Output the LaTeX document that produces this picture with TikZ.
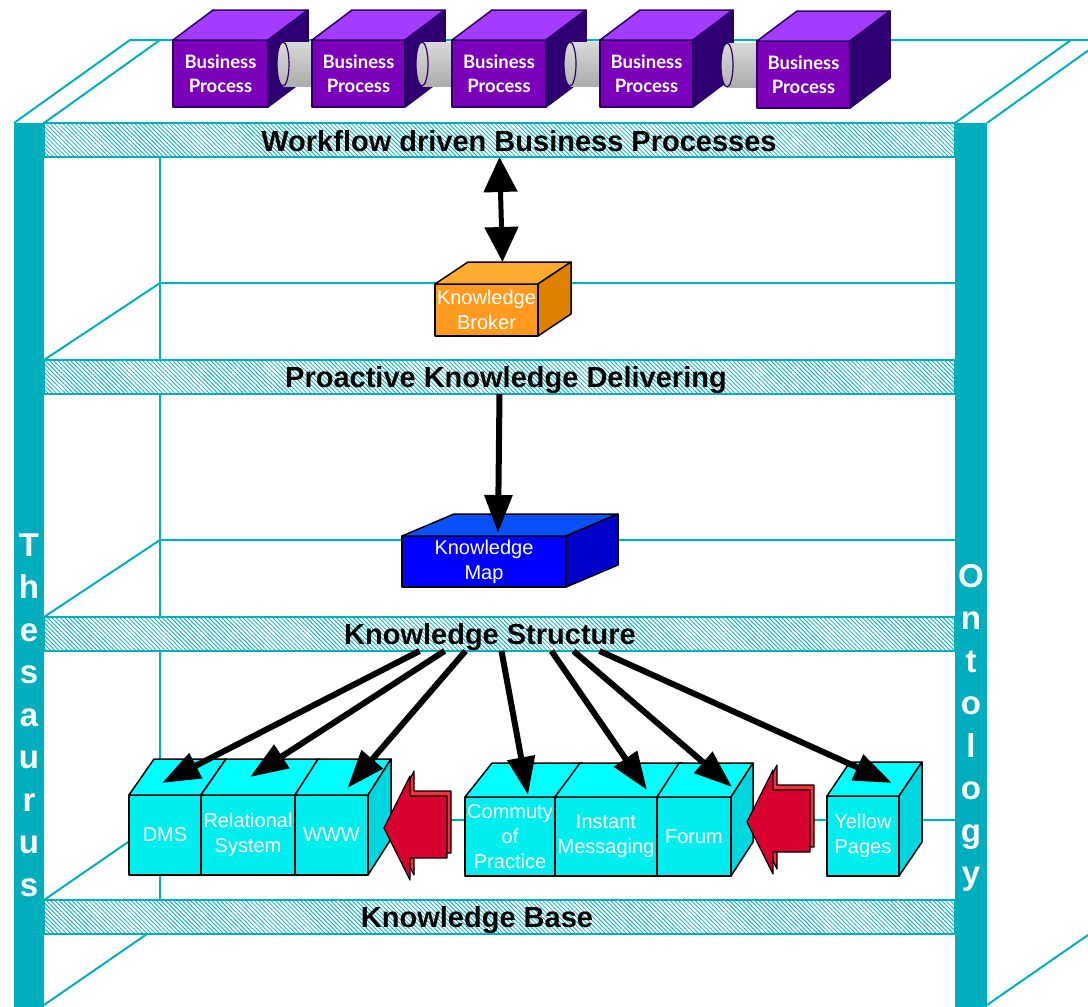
\documentclass[tikz,border=0pt]{standalone}
\usepackage{fontspec}
\setmainfont{Liberation Sans}
\newfontfamily\bpfont{Lato}
\usepackage{tikz}
\usetikzlibrary{arrows.meta,positioning,calc,patterns.meta}
\definecolor{shelfteal}{HTML}{00AEBD}
\definecolor{bpfront}{HTML}{7B00BA}
\definecolor{bptop}{HTML}{A33CFF}
\definecolor{bpside}{HTML}{2E0072}
\definecolor{bpedge}{HTML}{2A0066}
\definecolor{brokerfront}{HTML}{FF9A1E}
\definecolor{brokertop}{HTML}{FFAB2E}
\definecolor{brokerside}{HTML}{E08000}
\definecolor{mapfront}{HTML}{0000FF}
\definecolor{maptop}{HTML}{0A50FF}
\definecolor{mapside}{HTML}{0000CC}
\definecolor{kbfront}{HTML}{00EEEE}
\definecolor{kbtop}{HTML}{00FFFF}
\definecolor{kbside}{HTML}{00D6DE}
\definecolor{pushred}{HTML}{D8002E}
\definecolor{pushlight}{HTML}{F2303E}
\tikzset{
  frameline/.style={draw=shelfteal, line width=2pt},
  postbar/.style={fill=shelfteal, minimum height=884pt, anchor=north, inner sep=0pt, outer sep=0pt},
  postletters/.style={text=white, font=\bfseries\fontsize{33}{42.5}\selectfont, align=center, inner sep=0pt},
  bandbox/.style={
    draw=shelfteal,
    line width=1.5pt,
    preaction={fill=white},
    pattern={Lines[angle=-45,distance=3pt,line width=0.8pt]},
    pattern color=shelfteal,
    minimum width=911pt,
    minimum height=34pt,
    anchor=north west,
    inner sep=0pt,
    outer sep=0pt
  },
  bandtitle/.style={font=\bfseries\fontsize{29}{33}\selectfont, text height=21pt, text depth=0pt, inner sep=0pt},
  bpbox/.style={
    fill=bpfront,
    draw=bpedge,
    line width=1.5pt,
    text=white,
    font=\bpfont\bfseries\fontsize{18.5}{24}\selectfont,
    align=center,
    minimum width=95pt,
    minimum height=67pt,
    anchor=north west,
    inner sep=0pt,
    outer sep=0pt
  },
  bptopface/.style={fill=bptop, draw=bpedge, line width=1.5pt},
  bpsideface/.style={fill=bpside, draw=bpedge, line width=1.5pt},
  pipe/.style={top color=gray!30, middle color=gray!5, bottom color=gray!65},
  pipecap/.style={draw=bpedge, line width=1.2pt, top color=gray!30, bottom color=gray!60},
  solidbox/.style={
    draw=black,
    line width=1.5pt,
    text=white,
    font=\fontsize{20}{25}\selectfont,
    align=center,
    anchor=north west,
    inner sep=0pt,
    outer sep=0pt
  },
  brokerbox/.style={solidbox, fill=brokerfront},
  mapbox/.style={solidbox, fill=mapfront},
  kbbox/.style={solidbox, fill=kbfront},
  brokertopface/.style={fill=brokertop, draw=black, line width=1.5pt},
  brokersideface/.style={fill=brokerside, draw=black, line width=1.5pt},
  maptopface/.style={fill=maptop, draw=black, line width=1.5pt},
  mapsideface/.style={fill=mapside, draw=black, line width=1.5pt},
  kbtopface/.style={fill=kbtop, draw=black, line width=1.5pt},
  kbsideface/.style={fill=kbside, draw=black, line width=1.5pt},
  pushfront/.style={fill=pushred, draw=black, line width=1.2pt},
  pushback/.style={fill=pushlight, draw=black, line width=1.2pt},
  feed/.style={-{Triangle[length=38pt,width=27pt]}, line width=6pt},
  duplex/.style={{Triangle[length=35pt,width=33pt]}-{Triangle[length=35pt,width=33pt]}, line width=5pt}
}
\newcommand{\cubefaces}[5]{%
  \draw[#4] (#1.north west) -- ++(#2,#3) -- ($(#1.north east)+(#2,#3)$) -- (#1.north east) -- cycle;
  \draw[#5] (#1.north east) -- ++(#2,#3) -- ($(#1.south east)+(#2,#3)$) -- (#1.south east) -- cycle;}
\newcommand{\pusharrow}[1]{%
  \draw[pushback] ($(#1)+(4,-5)$) -- ++(26,-52) -- ++(0,20) -- ++(37,0) -- ++(0,62) -- ++(-37,0) -- ++(0,22) -- cycle;
  \draw[pushfront] (#1) -- ++(26,-52) -- ++(0,20) -- ++(37,0) -- ++(0,62) -- ++(-37,0) -- ++(0,22) -- cycle;}

\begin{document}
\begin{tikzpicture}[x=1pt, y=-1pt, line join=round]
\useasboundingbox (0,0) rectangle (1088,1007);
% shelf frame
\draw[frameline] (14,123) -- (130,40) -- (1088,40);
\draw[frameline] (44,123) -- (160,40);
\draw[frameline] (160,123) -- (160,925) -- (44,1005);
\draw[frameline] (955,123) -- (1071,40);
\draw[frameline] (987,123) -- (1088,50.6);
\draw[frameline] (44,360) -- (160,283) -- (955,283);
\draw[frameline] (44,617) -- (160,540) -- (955,540);
\draw[frameline] (44,900) -- (160,820) -- (955,820);
\draw[frameline] (987,1005) -- (1088,935);

% shelf boards
\node[bandbox] (workband) at (44,123) {};
\node[bandbox] (proband) at (44,360) {};
\node[bandbox] (structband) at (44,617) {};
\node[bandbox] (baseband) at (44,900) {};
\node[bandtitle] (worktitle) at (519,141) {Workflow driven Business Processes};
\node[bandtitle] (protitle) at (506,377) {Proactive Knowledge Delivering};
\node[bandtitle] (structtitle) at (490,634) {Knowledge Structure};
\node[bandtitle] (basetitle) at (477,917) {Knowledge Base};

% posts
\node[postbar, minimum width=30pt] (leftpost) at (29,123) {};
\node[postbar, minimum width=32pt] (rightpost) at (971,123) {};
\node[postletters] (thesaurus) at (29,715) {T\\h\\e\\s\\a\\u\\r\\u\\s};
\node[postletters] (ontology) at (971,728) {O\\n\\t\\o\\l\\o\\g\\y};

% business processes
\node[bpbox] (bpone) at (173,40) {Business\\Process};
\cubefaces{bpone}{40}{-30}{bptopface}{bpsideface}
\shade[pipe] (283,42) rectangle (318,86);
\draw[pipecap] (283,64) ellipse [x radius=6, y radius=22];
\node[bpbox, minimum width=93pt] (bptwo) at (312,40) {Business\\Process};
\cubefaces{bptwo}{40}{-30}{bptopface}{bpsideface}
\shade[pipe] (422,42) rectangle (458,86);
\draw[pipecap] (422,64) ellipse [x radius=6, y radius=22];
\node[bpbox, minimum width=94pt] (bpthree) at (452,40) {Business\\Process};
\cubefaces{bpthree}{40}{-30}{bptopface}{bpsideface}
\shade[pipe] (570,42) rectangle (606,86);
\draw[pipecap] (570,64) ellipse [x radius=6, y radius=22];
\node[bpbox, minimum width=93pt] (bpfour) at (600,40) {Business\\Process};
\cubefaces{bpfour}{40}{-30}{bptopface}{bpsideface}
\shade[pipe] (727,43) rectangle (763,87);
\draw[pipecap] (727,65) ellipse [x radius=6, y radius=22];
\node[bpbox, minimum width=93pt] (bpfive) at (757,41) {Business\\Process};
\cubefaces{bpfive}{40}{-30}{bptopface}{bpsideface}

% broker and map
\node[brokerbox, minimum width=103pt, minimum height=52pt] (broker) at (435,284) {Knowledge\\Broker};
\cubefaces{broker}{33}{-22}{brokertopface}{brokersideface}
\draw[duplex] (workband.south) -- ($(broker.north)+(16,-22)$);
\node[mapbox, minimum width=164pt, minimum height=51pt] (map) at (402,536) {Knowledge\\Map};
\cubefaces{map}{52}{-22}{maptopface}{mapsideface}
\draw[feed] (proband.south) -- ($(map.north)+(14,-3)$);

% knowledge base
\node[kbbox, minimum width=72pt, minimum height=80pt] (dms) at (129,795) {DMS};
\cubefaces{dms}{25}{-36}{kbtopface}{kbsideface}
\node[kbbox, minimum width=94pt, minimum height=80pt] (relational) at (201,795) {Relational\\System};
\cubefaces{relational}{25}{-36}{kbtopface}{kbsideface}
\node[kbbox, minimum width=73pt, minimum height=80pt] (www) at (295,795) {WWW};
\cubefaces{www}{23}{-36}{kbtopface}{kbsideface}
\node[kbbox, minimum width=90pt, minimum height=79pt] (community) at (465,797) {Commuty\\of\\Practice};
\cubefaces{community}{27}{-34}{kbtopface}{kbsideface}
\node[kbbox, minimum width=102pt, minimum height=79pt] (messaging) at (555,797) {Instant\\Messaging};
\cubefaces{messaging}{25}{-34}{kbtopface}{kbsideface}
\node[kbbox, minimum width=74pt, minimum height=79pt] (forum) at (657,797) {Forum};
\cubefaces{forum}{22}{-34}{kbtopface}{kbsideface}
\node[kbbox, minimum width=72pt, minimum height=80pt] (yellow) at (827,796) {Yellow\\Pages};
\cubefaces{yellow}{23}{-34}{kbtopface}{kbsideface}

\coordinate (pushleft) at (384,828);
\coordinate (pushright) at (747,822);
\pusharrow{pushleft}
\pusharrow{pushright}

\draw[feed] ($(structband.south)+(-80,0)$) -- ($(dms.north)+(-3,-12)$);
\draw[feed] ($(structband.south)+(-55,0)$) -- ($(relational.north)+(2,-18)$);
\draw[feed] ($(structband.south)+(-34,0)$) -- ($(www.north)+(16,-7)$);
\draw[feed] ($(structband.south)+(2,0)$) -- ($(community.north)+(18,-2)$);
\draw[feed] ($(structband.south)+(52,0)$) -- ($(messaging.north)+(41,-7)$);
\draw[feed] ($(structband.south)+(74,0)$) -- ($(forum.north)+(38,-10)$);
\draw[feed] ($(structband.south)+(100,0)$) -- ($(yellow.north)+(29,-13)$);
\end{tikzpicture}
\end{document}
